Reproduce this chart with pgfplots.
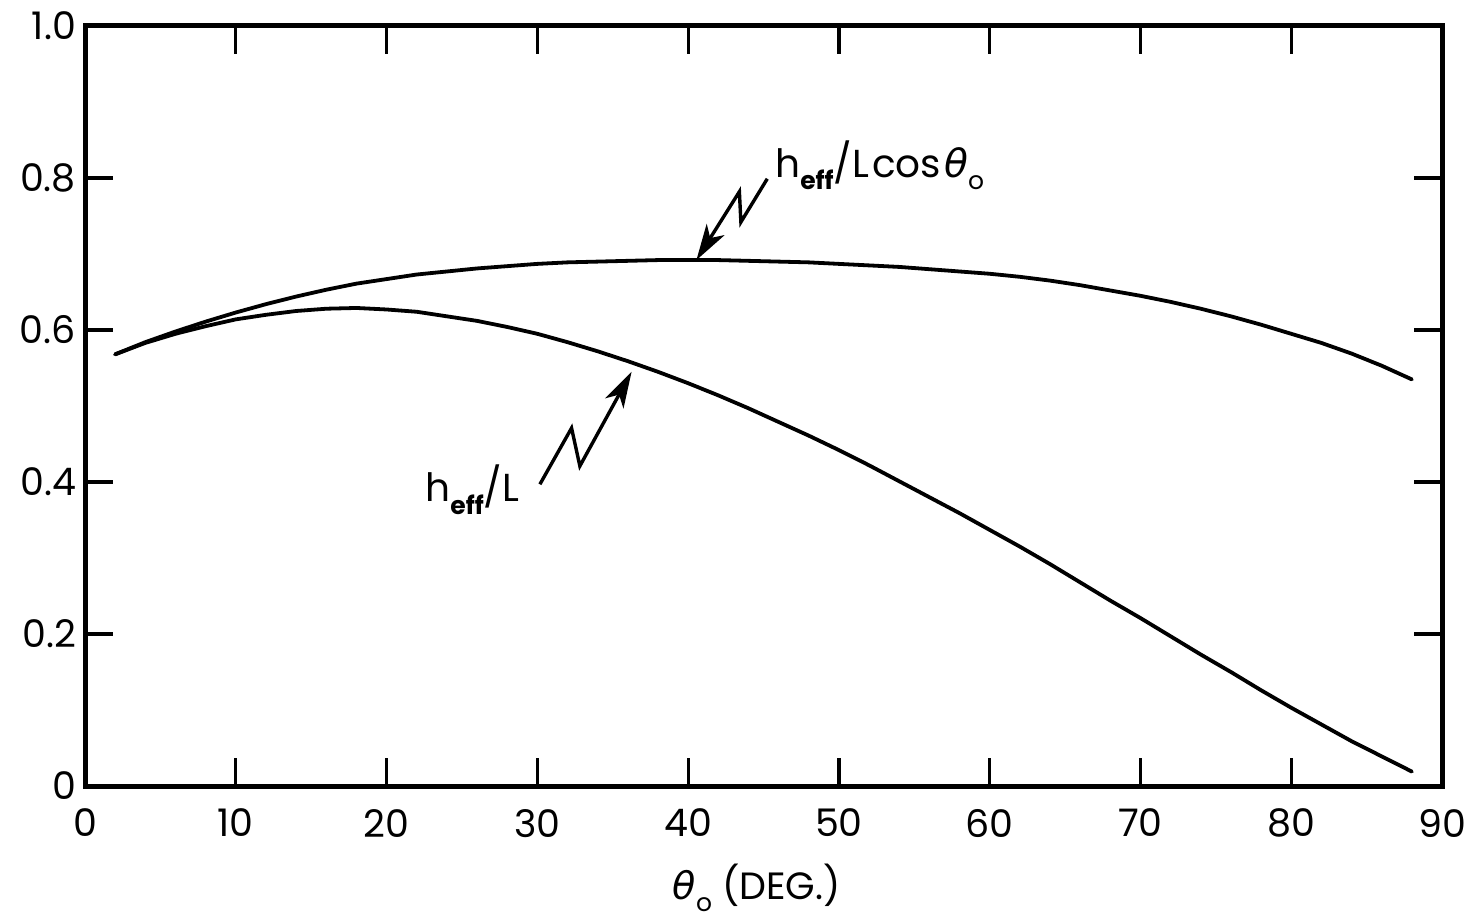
\documentclass[border=0pt]{standalone}
\usepackage{fontspec}
\setmainfont{Poppins}
\newfontfamily\greek{DejaVu Sans}
\usepackage{pgfplots}
\usepackage{pgfplotstable}
\pgfplotsset{compat=1.18}
\usetikzlibrary{arrows.meta}
\newcommand{\thet}{{\greek\itshape θ}}
\newcommand{\sub}[1]{\raisebox{-0.32em}{\fontsize{12.5}{12.5}\selectfont #1}}

\pgfplotstableread{
x y
2 0.568
4 0.584
6 0.598
8 0.611
10 0.623
12 0.634
14 0.644
16 0.653
18 0.661
20 0.667
22 0.673
24 0.677
26 0.681
28 0.684
30 0.687
32 0.689
34 0.690
36 0.691
38 0.692
40 0.692
42 0.692
44 0.691
46 0.690
48 0.689
50 0.687
52 0.685
54 0.683
56 0.680
58 0.677
60 0.674
62 0.670
64 0.665
66 0.659
68 0.652
70 0.645
72 0.637
74 0.628
76 0.618
78 0.607
80 0.595
82 0.583
84 0.569
86 0.553
88 0.535
}\uppertab

\pgfplotstableread{
x y
2 0.568
4 0.583
6 0.595
8 0.605
10 0.614
12 0.620
14 0.625
16 0.628
18 0.629
20 0.627
22 0.624
24 0.618
26 0.612
28 0.604
30 0.595
32 0.584
34 0.572
36 0.559
38 0.545
40 0.530
42 0.514
44 0.497
46 0.479
48 0.461
50 0.442
52 0.422
54 0.401
56 0.380
58 0.359
60 0.337
62 0.315
64 0.292
66 0.268
68 0.244
70 0.221
72 0.197
74 0.173
76 0.150
78 0.126
80 0.103
82 0.081
84 0.059
86 0.039
88 0.019
}\lowertab

\begin{document}
\begin{tikzpicture}
\begin{axis}[
  scale only axis, width=678.5pt, height=380pt,
  xmin=0, xmax=90, ymin=0, ymax=1,
  xtick={0,10,20,30,40,50,60,70,80,90},
  ytick={0,0.2,0.4,0.6,0.8,1.0},
  yticklabels={0,0.2,0.4,0.6,0.8,1.0},
  tick align=inside, major tick length=14pt,
  tick style={line width=1.6pt, black},
  axis line style={line width=2.5pt},
  /pgf/number format/assume math mode=true,
  ticklabel style={font=\fontsize{19}{22}\selectfont},
  xticklabel style={yshift=-8pt},
  yticklabel style={xshift=-1pt},
  xlabel={\thet\sub{o} (DEG.)},
  xlabel style={font=\fontsize{19}{22}\selectfont, at={(axis description cs:0.495,0)}, anchor=base, yshift=-56.5pt},
  clip=false,
]
\addplot[black, line width=1.9pt, line cap=round, line join=round] table[x=x,y=y] {\uppertab};
\addplot[black, line width=1.9pt, line cap=round, line join=round] table[x=x,y=y] {\lowertab};

\draw[line width=1.7pt, line join=miter, -{Stealth[length=18pt,width=10.5pt,inset=5pt]}]
  (axis cs:45.25,0.799) -- (axis cs:43.5,0.742) -- (axis cs:43.4,0.782) -- (axis cs:40.55,0.692);
\draw[line width=1.7pt, line join=miter, -{Stealth[length=18pt,width=10.5pt,inset=5pt]}]
  (axis cs:30.17,0.397) -- (axis cs:32.27,0.471) -- (axis cs:32.82,0.421) -- (axis cs:36.25,0.545);

\node[anchor=base west, inner sep=0pt, font=\fontsize{19.5}{22}\selectfont] at (axis cs:45.76,0.801)
  {h\sub{\bfseries eff}/L\kern1.5pt cos\kern1.5pt\thet\sub{o}};
\node[anchor=base west, inner sep=0pt, font=\fontsize{19.5}{22}\selectfont] at (axis cs:22.55,0.374)
  {h\sub{\bfseries eff}/L};

\coordinate (SW) at (rel axis cs:0,0);
\coordinate (NE) at (rel axis cs:1,1);
\end{axis}
\path ([shift={(-42.5pt,-64pt)}]SW) rectangle ([shift={(16pt,13pt)}]NE);
\end{tikzpicture}
\end{document}
